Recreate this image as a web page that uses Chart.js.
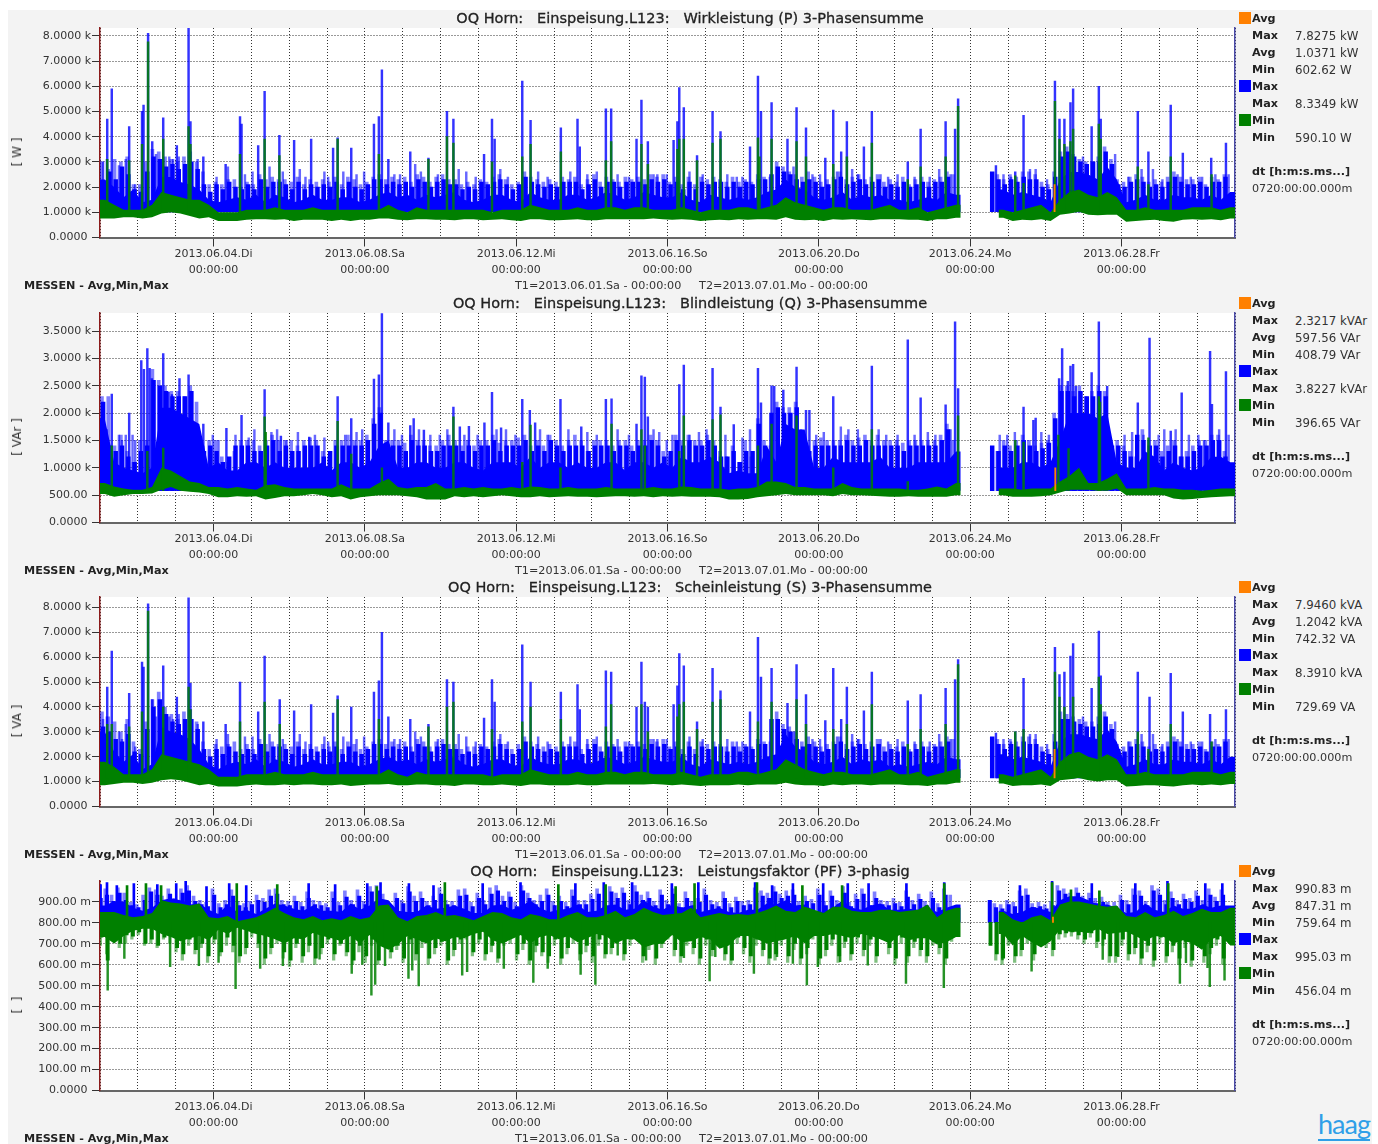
<!DOCTYPE html>
<html>
<head>
<meta charset="utf-8">
<title>OQ Horn Einspeisung.L123</title>
<script src="https://cdn.jsdelivr.net/npm/chart.js@4"></script>
<style>
    html, body { margin: 0; padding: 0; background: #fff; }
    #page { position: absolute; left: 8px; top: 10px; width: 1364px; height: 1134px; background: #f3f3f3; overflow: hidden; }
    #root { position: absolute; left: 0; top: 0; width: 1378px; height: 1144px; overflow: hidden; font-family: "DejaVu Sans", sans-serif; font-size: 11.2px; color: #333; }
    canvas { position: absolute; }
    .txt { position: absolute; white-space: pre; line-height: 14px; }
    .title { font-size: 14.5px; color: #222; transform: translateX(-50%); -webkit-text-stroke: 0.3px #222; }
    .b { font-weight: bold; color: #222; }
    .stat { font-size: 11.8px; }
    .unit { transform: translate(-50%, -50%) rotate(-90deg); font-size: 12px; }
    .swatch { position: absolute; width: 12px; height: 12px; }
    #logo { position: absolute; left: 1318px; top: 1108px; font-family: Lato, sans-serif; font-size: 27px; color: #2f9fe8; letter-spacing: -1px; line-height: 31px; border-bottom: 2px solid #2f9fe8; }
</style>
</head>
<body>
<div id="page"></div>
<div id="root"><div id="logo">haag</div></div>
<script>
// x axis (days since 2013.06.01 00:00)
const xTickDays = [3, 7, 11, 15, 19, 23, 27];
const xTickDates = ['2013.06.04.Di', '2013.06.08.Sa', '2013.06.12.Mi', '2013.06.16.So', '2013.06.20.Do', '2013.06.24.Mo', '2013.06.28.Fr'];
const xTickTime = '00:00:00';

// Wirkleistung (kW)
const wirkTicks = ['0.0000 ', '1.0000 k', '2.0000 k', '3.0000 k', '4.0000 k', '5.0000 k', '6.0000 k', '7.0000 k', '8.0000 k'];
const wirkStats = ['7.8275 kW', '1.0371 kW', '602.62 W', '8.3349 kW', '590.10 W'];
const wirkComb = [
    2.8,3.0,2.7,3.1,3.0,3.2, 2.1,2.1,3.0,3.5,3.4,3.2, 3.1,3.0,3.2,3.4,3.0,2.6, 2.1,2.2,2.1,2.3,2.3,2.0,
    2.2,2.1,2.5,2.3,2.4,2.3, 2.3,2.2,2.4,2.1,2.3,2.2, 2.3,2.2,2.4,2.1,2.4,2.3, 2.1,2.2,2.4,2.5,2.3,2.4,
    2.3,2.4,2.2,2.5,2.4,2.2, 2.4,2.5,2.3,2.3,2.1,2.2, 2.1,2.3,2.2,2.4,2.5,2.3, 2.1,2.2,2.6,2.4,2.3,2.2,
    2.3,2.2,2.4,2.3,2.4,2.1, 2.3,2.5,2.2,2.4,2.3,2.2, 2.4,2.3,2.4,2.3,2.5,2.4, 2.5,2.2,2.4,2.1,2.4,2.1,
    2.4,2.3,2.4,2.3,2.2,2.4, 2.2,2.3,2.2,2.5,2.4,2.4, 3.0,2.8,2.6,2.5,2.4,2.6, 2.4,2.2,2.3,2.4,2.6,2.3,
    2.4,2.5,2.3,2.4,2.5,2.2, 2.3,2.2,2.4,2.1,2.3,2.4, 2.2,2.3,2.4,2.6,2.5,null, null,null,null,null,null,2.5,
    2.3,2.5,2.4,2.6,2.6,2.5, 2.2,2.1,2.6,3.4,3.6,3.3, 3.1,3.0,3.0,3.2,3.6,3.1, 2.3,2.2,2.4,2.5,2.4,2.2,
    2.3,2.2,2.4,2.6,2.4,2.3, 2.3,2.4,2.1,2.4,2.3,2.5
];
const wirkFine = [
    2.6,2.2,2.6,2.3,2.8,2.5, 1.9,1.8,2.6,3.2,3.1,2.8, 2.9,2.7,2.9,3.0,2.7,2.1, 1.8,2.1,1.9,2.2,2.0,1.9,
    2.1,1.9,2.3,2.0,2.2,2.2, 2.1,1.9,2.2,1.9,2.1,2.0, 2.1,2.0,2.2,1.9,2.2,2.0, 1.9,2.1,2.3,2.3,2.1,2.2,
    2.1,2.2,2.0,2.3,2.2,2.0, 2.2,2.3,2.1,2.1,1.9,2.0, 1.9,2.2,2.1,2.2,2.3,2.1, 1.9,2.1,2.4,2.2,2.1,2.0,
    2.1,2.0,2.2,2.2,2.2,1.9, 2.1,2.3,2.0,2.2,2.2,2.0, 2.2,2.2,2.2,2.1,2.3,2.2, 2.3,2.1,2.2,1.9,2.2,1.9,
    2.2,2.1,2.2,2.2,2.0,2.2, 2.0,2.2,2.1,2.3,2.3,2.5, 2.8,2.6,2.5,2.3,2.2,2.3, 2.2,2.0,2.1,2.3,2.4,2.1,
    2.2,2.3,2.1,2.2,2.3,2.0, 2.1,2.0,2.2,2.0,2.1,2.2, 2.0,2.2,2.2,2.4,null,null, null,null,null,null,2.6,2.3,
    2.1,2.3,2.2,2.4,2.3,2.3, 2.0,1.9,2.4,3.2,3.4,3.2, 3.0,2.9,3.0,3.0,3.4,2.9, 2.1,2.0,2.2,2.3,2.2,2.0,
    2.1,2.0,2.2,2.4,2.2,2.1, 2.1,2.2,2.0,2.2,2.2,2.4
];
const wirkSolid = [
    2.3,2.0,1.6,1.9, 1.4,1.5,2.4,2.4, 2.2,2.1,1.9,1.5, 1.4,1.5,1.6,1.5, 1.7,1.4,1.7,1.6, 1.4,1.5,1.7,1.5,
    1.5,1.6,1.6,1.4, 1.5,1.7,1.8,1.6, 1.7,1.5,1.7,1.6, 1.7,1.8,1.5,1.4, 1.5,1.7,1.7,1.5, 1.4,1.8,1.6,1.5,
    1.5,1.7,1.7,1.5, 1.6,1.8,1.7,1.5, 1.6,1.8,1.7,1.6, 1.6,1.8,1.5,1.4, 1.7,1.6,1.5,1.6, 1.5,1.6,1.8,1.9,
    2.3,2.0,1.9,1.6, 1.5,1.6,1.8,1.5, 1.7,1.6,1.7,1.5, 1.5,1.4,1.5,1.6, 1.5,1.8,1.7,null, null,null,null,1.9,
    1.7,1.8,1.7,1.6, 1.4,2.3,2.6,2.6, 2.5,2.3,2.8,2.3, 1.4,1.5,1.7,1.5, 1.5,1.7,1.6,1.6, 1.5,1.7,1.5,1.8
];
const wirkGreenTop = [
    1.5,1.3,1.1,1.1, 1.1,1.3,1.8,1.7, 1.6,1.5,1.5,1.3, 1.0,1.0,1.0,1.1, 1.1,1.1,1.2,1.1, 1.1,1.1,1.2,1.1,
    1.1,1.1,1.1,1.1, 1.1,1.1,1.3,1.1, 1.0,1.2,1.1,1.1, 1.1,1.1,1.1,1.1, 1.1,1.0,1.1,1.1, 1.1,1.3,1.2,1.1,
    1.1,1.1,1.2,1.1, 1.1,1.2,1.2,1.1, 1.2,1.2,1.1,1.1, 1.1,1.2,1.1,1.0, 1.1,1.1,1.1,1.2, 1.2,1.1,1.2,1.3,
    1.6,1.4,1.3,1.2, 1.1,1.2,1.2,1.1, 1.1,1.1,1.2,1.3, 1.1,1.1,1.2,1.0, 1.1,1.2,1.3,null, null,null,null,1.1,
    1.0,1.1,1.2,1.3, 1.0,1.5,1.8,1.9, 1.7,1.6,1.8,1.6, 1.1,1.1,1.2,1.1, 1.1,1.1,1.1,1.2, 1.2,1.2,1.1,1.2
];
const wirkGreenLow = [
    .75,.75,.8,.8, .75,.8,.95,1.0, .95,.85,.75,.8, .65,.65,.65,.7, .72,.72,.7,.72, .65,.7,.7,.7,
    .65,.7,.65,.7, .7,.75,.75,.7, .68,.72,.72,.7, .7,.68,.72,.72, .68,.7,.72,.68, .65,.72,.72,.68,
    .68,.7,.72,.68, .68,.72,.72,.72, .72,.72,.75,.72, .7,.72,.7,.65, .68,.7,.68,.72, .7,.72,.72,.7,
    .8,.7,.68,.7, .65,.72,.7,.72, .7,.68,.72,.72, .72,.7,.7,.65, .72,.72,.78,null, null,null,null,.78,
    .65,.7,.68,.72, .65,.9,.95,1.02, .9,.88,.9,.9, .62,.65,.68,.7, .65,.62,.7,.72, .7,.72,.68,.75
];
const wirkBlueSpikes = [
    [.31,4.7],[.43,5.9],[.89,4.4],[1.23,5.0],[1.27,5.25],[1.39,8.1],[1.5,3.8],[1.79,4.75],[2.15,3.65],[2.46,8.35],[2.51,4.6],[2.85,3.2],
    [3.44,2.9],[3.82,4.8],[3.86,4.5],[4.3,3.65],[4.47,5.8],[4.86,4.05],[5.25,3.85],[5.7,3.9],[6.28,3.55],[6.4,3.95],[6.76,3.55],[7.36,4.5],
    [7.49,4.8],[7.57,6.65],[7.74,3.1],[8.32,3.4],[8.8,3.15],[9.29,5.0],[9.46,4.7],[10.27,3.3],[10.48,4.7],[10.55,3.9],[11.28,6.2],[11.5,4.65],
    [12.3,4.35],[12.74,4.7],[12.8,3.6],[13.49,5.1],[13.63,5.1],[14.3,3.9],[14.43,5.45],[14.6,3.8],[15.28,3.85],[15.38,4.6],[15.43,5.95],[15.55,5.15],
    [15.9,3.25],[16.31,5.0],[16.52,4.2],[17.3,3.6],[17.51,6.4],[17.59,5.0],[17.87,5.35],[18.29,3.9],[18.53,5.15],[18.78,4.35],[19.29,3.15],[19.5,5.05],
    [19.71,3.4],[19.86,4.6],[20.31,3.6],[20.52,5.0],[21.47,3.0],[21.81,4.3],[22.47,4.6],[22.72,4.3],[22.8,5.5],[23.8,2.85],[24.31,2.6],[24.53,4.85],
    [25.36,6.2],[25.48,4.7],[25.61,4.7],[25.77,5.35],[25.84,5.9],[26.33,4.4],[26.52,6.0],[26.57,4.7],[27.55,5.0],[27.83,3.4],[28.42,5.25],[28.74,3.35],
    [29.49,3.15],[29.88,3.75]
];
const wirkMidSpikes = [
    [.1,3.1],[.2,3.0],[.3,3.1],[.62,2.85],[.7,2.6],[.8,3.1],[1.05,2.1],[1.6,3.3],[1.95,3.2],[2.05,3.1],[2.2,3.2],[2.7,3.1],[3.2,2.4],[3.5,2.8],[3.95,2.5],
    [4.15,2.6],[4.6,2.8],[4.95,2.6],[5.4,2.7],[5.55,2.4],[6.05,2.6],[6.15,2.4],[6.55,2.6],[6.9,2.5],[7.1,2.6],[7.9,2.5],[8.05,2.5],[8.45,2.9],[8.6,2.6],[9.05,2.5],
    [9.6,2.7],[9.8,2.6],[10.05,2.4],[10.7,2.7],[10.9,2.4],[11.7,2.6],[11.95,2.4],[12.55,2.6],[13.0,2.5],[13.25,2.6],[13.8,2.5],[14.1,2.4],[14.75,2.5],[14.85,2.5],
    [15.1,2.5],[15.7,2.6],[16.05,2.5],[16.7,2.5],[16.95,2.4],[17.1,2.4],[18.45,2.8],[18.95,2.5],[19.15,2.5],[19.6,2.6],[20.0,2.7],[20.15,2.5],[20.75,2.5],[20.95,2.4],
    [21.2,2.5],[21.65,2.4],[22.05,2.4],[22.3,2.7],[22.6,2.5],[24.0,2.5],[24.2,2.4],[24.7,2.7],[24.85,2.7],[25.15,2.3],[26.1,3.2],[26.95,3.3],[27.3,2.4],[27.65,2.7],
    [27.95,2.7],[28.2,2.3],[28.6,2.5],[28.95,2.4],[29.25,2.4],[29.6,2.5],[29.95,2.5]
];
const wirkGreenSpikes = [
    [.31,3.1],[.89,3.05],[1.23,3.7],[1.39,7.76],[1.79,3.9],[2.46,4.4],[2.51,3.7],[3.82,3.3],[4.47,3.9],[4.86,3.25],[6.4,3.9],[7.49,3.3],
    [8.8,3.1],[9.29,4.0],[9.46,3.75],[10.48,3.0],[11.28,3.2],[11.5,3.7],[12.3,3.4],[13.49,3.05],[13.63,3.8],[14.43,3.7],[14.6,2.9],[15.38,3.5],
    [15.43,3.9],[15.55,3.9],[15.9,3.05],[16.31,3.75],[16.52,3.9],[17.51,3.95],[17.55,3.2],[17.87,3.9],[18.53,3.8],[18.78,3.2],[19.5,2.9],[19.86,3.2],
    [20.52,3.75],[21.47,2.3],[21.81,2.8],[22.47,3.2],[22.8,5.2],[24.31,2.45],[24.53,2.15],[25.36,5.4],[25.48,3.9],[25.61,3.7],[25.77,3.8],[25.84,4.3],
    [26.52,4.5],[26.57,3.9],[27.55,2.8],[27.83,2.1],[28.42,3.2],[29.5,2.5]
];
const wirkAvg = [[25.31,2.1]];

// Blindleistung (kVAr)
const blindTicks = ['0.0000 ', '500.00 ', '1.0000 k', '1.5000 k', '2.0000 k', '2.5000 k', '3.0000 k', '3.5000 k'];
const blindStats = ['2.3217 kVAr', '597.56 VAr', '408.79 VAr', '3.8227 kVAr', '396.65 VAr'];
const blindComb = [
    2.1,2.3,2.3,1.4,1.6,1.3, 1.1,1.5,1.5,2.8,2.6,2.5, 2.4,2.4,2.3,2.5,2.2,1.4, 1.5,1.5,1.2,1.1,1.3,1.5,
    1.5,1.5,1.4,1.5,1.6,1.5, 1.5,1.5,1.4,1.5,1.55,1.5, 1.3,1.2,1.5,1.5,1.6,1.5, 1.5,1.6,1.9,2.1,1.5,1.5,
    1.5,1.45,1.6,1.5,1.5,1.4, 1.4,1.5,1.6,1.5,1.4,1.5, 1.4,1.5,1.5,1.6,1.45,1.5, 1.5,1.55,1.6,1.4,1.5,1.4,
    1.6,1.5,1.4,1.5,1.6,1.5, 1.3,1.5,1.5,1.5,1.4,1.5, 1.5,1.4,1.5,1.5,1.6,1.5, 1.3,1.2,1.6,1.5,1.6,1.5,
    1.5,1.6,1.5,1.3,1.2,1.4, 1.1,1.5,1.2,1.9,1.5,1.4, 2.2,2.1,2.1,2.2,1.5,1.4, 1.5,1.55,1.5,1.5,1.5,1.6,
    1.5,1.55,1.6,1.5,1.6,1.5, 1.5,1.5,1.45,1.5,1.5,1.5, 1.5,1.5,1.6,1.8,1.5,null, null,null,null,null,null,1.3,
    1.5,1.4,1.5,1.6,1.5,1.4, 1.45,1.5,2.0,2.5,2.5,2.4, 2.5,2.3,2.4,2.5,2.4,1.5, 1.5,1.4,1.3,1.2,1.7,1.5,
    1.5,1.3,1.4,1.5,1.2,1.3, 1.4,1.5,1.5,1.6,1.6,1.3
];
const blindFine = [
    2.0,2.2,1.4,1.3,1.4,1.2, 1.1,1.3,1.4,2.6,2.5,2.4, 2.3,2.3,2.3,2.4,1.5,1.3, 1.4,1.3,1.1,1.2,1.4,1.4,
    1.4,1.3,1.3,1.4,1.5,1.3, 1.4,1.3,1.3,1.4,1.4,1.4, 1.2,1.3,1.4,1.4,1.4,1.4, 1.4,1.5,1.8,2.0,1.4,1.4,
    1.4,1.3,1.5,1.4,1.4,1.3, 1.3,1.4,1.4,1.4,1.3,1.4, 1.3,1.4,1.4,1.5,1.3,1.4, 1.4,1.4,1.5,1.3,1.4,1.3,
    1.5,1.4,1.3,1.4,1.4,1.4, 1.3,1.4,1.4,1.4,1.3,1.4, 1.4,1.3,1.4,1.4,1.5,1.4, 1.2,1.3,1.5,1.4,1.5,1.4,
    1.4,1.5,1.4,1.2,1.2,1.3, 1.1,1.3,1.3,1.8,1.4,2.0, 2.1,2.0,2.0,2.1,1.4,1.3, 1.4,1.4,1.4,1.4,1.4,1.5,
    1.4,1.4,1.5,1.4,1.4,1.4, 1.4,1.4,1.3,1.4,1.4,1.4, 1.4,1.4,1.5,1.7,null,null, null,null,null,null,1.4,1.3,
    1.4,1.3,1.4,1.5,1.4,1.3, 1.35,1.45,1.9,2.4,2.4,2.3, 2.4,2.3,2.3,2.4,2.3,1.4, 1.4,1.3,1.2,1.6,1.5,1.4,
    1.4,1.2,1.3,1.4,1.2,1.2, 1.3,1.4,1.4,1.5,1.5,1.2
];
const blindSolid = [
    1.9,1.1,1.0,.95, .9,1.0,2.1,2.1, 2.0,1.9,1.8,1.0, 1.1,.95,.95,1.1, 1.1,1.0,1.1,1.0, 1.0,1.0,1.0,1.1,
    .95,1.1,1.1,1.0, 1.1,1.4,1.5,1.0, 1.0,1.1,1.1,1.0, 1.0,1.1,1.1,1.0, .95,1.1,1.1,1.1, 1.0,1.2,1.0,1.1,
    1.1,1.0,1.1,1.0, 1.0,1.1,1.1,.95, 1.1,1.1,1.0,1.1, 1.0,1.2,1.1,1.1, 1.2,1.1,.9,.95, .9,.9,1.4,1.1,
    1.8,1.7,1.7,1.0, 1.0,1.2,1.1,1.1, 1.1,1.1,1.2,1.0, 1.0,1.0,1.1,1.1, 1.1,1.1,1.3,null, null,null,null,1.0,
    1.0,1.1,1.1,1.0, 1.1,1.5,2.0,2.0, 2.0,1.9,2.0,1.1, 1.0,1.0,1.3,1.2, .95,1.1,1.0,.95, 1.0,1.2,1.2,1.1
];
const blindGreenTop = [
    .72,.66,.62,.6, .6,.65,1.0,.95, .85,.75,.72,.65, .65,.62,.65,.62, .6,.68,.7,.65, .62,.62,.62,.62,
    .62,.7,.62,.62, .62,.72,.8,.65, .62,.65,.65,.72, .62,.62,.65,.62, .65,.62,.62,.65, .62,.66,.65,.62,
    .62,.65,.62,.62, .62,.65,.62,.62, .62,.62,.65,.62, .62,.66,.65,.62, .62,.62,.6,.62, .62,.65,.75,.75,
    .72,.65,.65,.62, .62,.62,.72,.65, .62,.62,.62,.62, .62,.6,.6,.62, .66,.62,.72,null, null,null,null,.62,
    .62,.6,.62,.62, .62,.75,.85,1.0, .72,.72,.8,.9, .62,.62,.62,.65, .62,.62,.6,.6, .58,.6,.62,.62
];
const blindGreenLow = [
    .52,.47,.5,.52, .52,.53,.6,.65, .58,.56,.55,.52, .46,.46,.48,.47, .48,.42,.45,.48, .48,.5,.52,.5,
    .46,.48,.42,.46, .48,.5,.5,.5, .48,.46,.42,.42, .42,.48,.46,.48, .46,.48,.5,.48, .46,.46,.48,.46,
    .47,.48,.47,.47, .46,.47,.48,.48, .47,.48,.46,.48, .47,.48,.47,.47, .47,.46,.42,.42, .43,.46,.48,.5,
    .52,.5,.5,.5, .5,.48,.52,.5, .5,.49,.48,.47, .47,.48,.47,.47, .47,.47,.5,null, null,null,null,.5,
    .47,.47,.47,.48, .5,.55,.6,.6, .6,.58,.58,.62, .5,.5,.5,.5, .5,.44,.42,.43, .45,.46,.47,.48
];
const blindBlueSpikes = [
    [.43,2.35],[.89,2.0],[1.21,2.96],[1.28,2.8],[1.37,3.18],[1.43,2.82],[1.49,2.63],[1.79,3.09],[1.93,2.38],[2.02,2.34],[2.22,2.63],[2.46,2.7],
    [2.51,2.3],[2.85,1.8],[3.46,1.72],[3.86,1.96],[4.47,2.43],[4.9,1.58],[5.65,1.56],[6.4,2.3],[6.76,1.9],[7.36,2.62],[7.49,2.7],[7.57,3.82],
    [7.74,1.82],[8.32,1.77],[8.41,1.9],[8.68,1.69],[9.46,2.11],[9.63,1.75],[9.87,1.76],[10.28,1.82],[10.48,2.38],[10.72,1.73],[11.28,2.25],[11.48,2.05],
    [11.62,1.82],[12.29,2.25],[12.84,1.75],[13.49,2.25],[13.64,2.26],[14.3,1.8],[14.43,2.68],[14.52,2.66],[14.6,1.93],[15.43,2.52],[15.55,2.88],[16.31,2.82],
    [16.52,2.11],[16.87,1.79],[17.51,2.82],[17.59,2.19],[17.87,2.5],[17.94,2.49],[18.18,2.42],[18.53,2.84],[18.78,2.05],[18.87,2.05],[19.5,2.3],[20.52,2.86],
    [21.47,3.34],[21.81,2.28],[22.47,2.15],[22.72,3.67],[22.8,2.45],[24.53,2.11],[24.79,1.87],[24.85,1.91],[25.47,2.63],[25.55,3.18],[25.7,2.58],[25.77,2.86],
    [25.84,2.89],[25.91,2.49],[26.33,2.74],[26.52,3.67],[26.74,2.49],[27.55,2.19],[27.86,3.37],[28.42,1.67],[28.71,2.37],[29.46,3.13],[29.51,2.16],[29.88,2.76]
];
const blindMidSpikes = [
    [.2,1.55],[.3,1.7],[.62,1.6],[.7,1.5],[.8,1.6],[.98,1.6],[1.05,1.5],[2.7,1.65],[3.1,1.6],[3.25,1.5],[3.7,1.6],[4.05,1.55],[4.2,1.7],[4.65,1.65],[4.8,1.7],[5.05,1.5],
    [5.35,1.65],[5.8,1.6],[6.05,1.55],[6.6,1.6],[6.9,1.65],[7.05,1.7],[7.9,1.7],[8.1,1.6],[8.55,1.7],[8.85,1.6],[9.1,1.6],[9.3,1.7],[9.75,1.6],[10.1,1.6],[10.6,1.7],[10.85,1.7],
    [11.1,1.6],[11.75,1.7],[11.95,1.6],[12.5,1.7],[13.0,1.65],[13.25,1.6],[13.8,1.7],[14.1,1.6],[14.75,1.7],[14.9,1.65],[15.1,1.5],[15.25,1.6],[15.7,1.6],[15.95,1.65],[16.15,1.7],
    [16.65,1.6],[17.1,1.55],[17.3,1.7],[18.35,1.6],[18.65,1.7],[19.05,1.6],[19.25,1.65],[19.7,1.75],[19.9,1.7],[20.15,1.7],[20.7,1.7],[20.9,1.6],[21.2,1.6],[21.65,1.6],[22.0,1.65],
    [22.2,1.6],[22.6,1.7],[23.9,1.6],[24.1,1.6],[24.3,1.65],[25.0,1.65],[25.2,1.6],[27.2,1.6],[27.4,1.65],[27.7,1.6],[28.1,1.6],[28.25,1.7],[28.55,1.7],[28.9,1.6],[29.15,1.6],
    [29.3,1.5],[29.7,1.7],[29.95,1.6]
];
const blindGreenSpikes = [
    [.43,1.4],[1.37,1.3],[1.79,1.36],[4.47,1.93],[4.5,1.65],[6.4,1.85],[6.76,1.25],[7.57,1.0],[9.46,1.93],[11.28,1.1],[11.5,1.78],[12.29,1.0],
    [13.64,1.8],[14.43,1.7],[14.52,1.4],[15.43,1.3],[15.55,1.95],[16.31,1.88],[16.52,1.97],[17.51,1.4],[17.87,1.8],[18.53,1.95],[19.5,1.0],[20.52,1.7],
    [21.47,.75],[22.8,1.95],[24.31,1.5],[24.53,1.47],[25.45,1.6],[25.72,1.35],[26.52,2.3],[26.55,2.2],[27.83,1.55]
];
const blindAvg = [[25.33,1.0]];

// Scheinleistung (kVA)
const scheinTicks = ['0.0000 ', '1.0000 k', '2.0000 k', '3.0000 k', '4.0000 k', '5.0000 k', '6.0000 k', '7.0000 k', '8.0000 k'];
const scheinStats = ['7.9460 kVA', '1.2042 kVA', '742.32 VA', '8.3910 kVA', '729.69 VA'];
const scheinComb = [
    3.6,3.8,3.6,3.4,3.0,3.5, 2.6,2.3,3.4,4.3,4.6,4.0, 3.7,3.5,3.8,3.9,3.4,2.6, 2.3,2.5,2.4,2.5,2.6,2.3,
    2.5,2.3,2.7,2.5,2.6,2.5, 2.5,2.4,2.6,2.3,2.5,2.4, 2.5,2.4,2.6,2.3,2.6,2.5, 2.3,2.4,2.6,2.7,2.5,2.6,
    2.5,2.6,2.4,2.7,2.6,2.4, 2.6,2.7,2.5,2.5,2.3,2.4, 2.4,2.5,2.4,2.6,2.7,2.5, 2.3,2.5,2.8,2.6,2.5,2.4,
    2.5,2.4,2.6,2.5,2.6,2.3, 2.5,2.7,2.4,2.6,2.5,2.4, 2.6,2.5,2.6,2.5,2.7,2.6, 2.7,2.4,2.6,2.3,2.6,2.3,
    2.6,2.5,2.6,2.5,2.4,2.6, 2.4,2.5,2.4,2.7,2.6,2.6, 3.8,3.3,3.2,3.0,2.6,2.8, 2.6,2.4,2.5,2.6,2.8,2.5,
    2.6,2.7,2.5,2.6,2.7,2.4, 2.5,2.4,2.6,2.3,2.5,2.6, 2.4,2.5,2.6,2.8,2.7,null, null,null,null,null,null,2.7,
    2.5,2.7,2.6,2.8,2.8,2.7, 2.4,2.3,2.9,3.8,3.7,3.6, 3.5,3.4,3.4,3.6,3.8,3.3, 2.5,2.4,2.6,2.7,2.6,2.4,
    2.5,2.4,2.6,2.8,2.6,2.5, 2.5,2.6,2.3,2.6,2.5,2.7
];
const scheinFine = [
    3.4,3.2,3.0,2.7,2.6,2.9, 2.2,2.1,3.1,4.0,4.3,3.7, 3.4,3.3,3.5,3.5,3.1,2.3, 2.0,2.3,2.1,2.4,2.2,2.1,
    2.3,2.1,2.5,2.2,2.4,2.4, 2.3,2.1,2.4,2.1,2.3,2.2, 2.3,2.2,2.4,2.1,2.4,2.2, 2.1,2.3,2.5,2.5,2.3,2.4,
    2.3,2.4,2.2,2.5,2.4,2.2, 2.4,2.5,2.3,2.3,2.1,2.2, 2.1,2.4,2.3,2.4,2.5,2.3, 2.1,2.3,2.6,2.4,2.3,2.2,
    2.3,2.2,2.4,2.4,2.4,2.1, 2.3,2.5,2.2,2.4,2.4,2.2, 2.4,2.4,2.4,2.3,2.5,2.4, 2.5,2.3,2.4,2.1,2.4,2.1,
    2.4,2.3,2.4,2.4,2.2,2.4, 2.2,2.4,2.3,2.5,2.5,3.5, 3.5,3.1,3.0,2.7,2.4,2.5, 2.4,2.2,2.3,2.5,2.6,2.3,
    2.4,2.5,2.3,2.4,2.5,2.2, 2.3,2.2,2.4,2.2,2.3,2.4, 2.2,2.4,2.4,2.6,null,null, null,null,null,null,2.8,2.5,
    2.3,2.5,2.4,2.6,2.5,2.5, 2.2,2.1,2.6,3.5,3.5,3.4, 3.3,3.2,3.2,3.3,3.6,3.1, 2.3,2.2,2.4,2.5,2.4,2.2,
    2.3,2.2,2.4,2.6,2.4,2.3, 2.3,2.4,2.2,2.4,2.4,2.6
];
const scheinSolid = [
    3.0,2.2,1.8,2.1, 1.5,1.7,3.2,3.0, 2.9,2.7,2.3,1.7, 1.5,1.7,1.8,1.7, 1.9,1.6,1.9,1.8, 1.6,1.7,1.9,1.7,
    1.7,1.8,1.8,1.6, 1.7,1.9,2.0,1.8, 1.9,1.7,1.9,1.8, 1.9,2.0,1.7,1.6, 1.7,1.9,1.9,1.7, 1.6,2.0,1.8,1.7,
    1.7,1.9,1.9,1.7, 1.8,2.0,1.9,1.7, 1.8,2.0,1.9,1.8, 1.8,2.0,1.7,1.6, 1.9,1.8,1.7,1.8, 1.7,1.8,2.0,2.1,
    2.9,2.4,2.2,1.8, 1.7,1.8,2.0,1.7, 1.9,1.8,1.9,1.6, 1.7,1.6,1.7,1.8, 1.7,2.0,1.9,null, null,null,null,2.1,
    1.9,2.0,1.9,1.8, 1.6,2.6,2.9,2.9, 2.8,2.7,3.1,2.6, 1.6,1.7,1.9,1.7, 1.7,1.9,1.8,1.8, 1.7,1.9,1.7,2.0
];
const scheinGreenTop = [
    1.8,1.6,1.3,1.3, 1.3,1.5,2.1,2.0, 1.9,1.8,1.7,1.5, 1.2,1.2,1.2,1.3, 1.3,1.3,1.4,1.3, 1.3,1.3,1.4,1.3,
    1.3,1.3,1.3,1.3, 1.3,1.3,1.5,1.3, 1.2,1.4,1.3,1.3, 1.3,1.3,1.3,1.3, 1.3,1.2,1.3,1.3, 1.3,1.5,1.4,1.3,
    1.3,1.3,1.4,1.3, 1.3,1.4,1.4,1.3, 1.4,1.4,1.3,1.3, 1.3,1.4,1.3,1.2, 1.3,1.3,1.3,1.4, 1.4,1.3,1.4,1.5,
    1.9,1.7,1.5,1.4, 1.3,1.4,1.4,1.3, 1.3,1.3,1.4,1.5, 1.3,1.3,1.4,1.2, 1.3,1.4,1.5,null, null,null,null,1.3,
    1.2,1.3,1.4,1.5, 1.2,1.8,2.1,2.2, 2.0,1.9,2.1,1.9, 1.3,1.3,1.4,1.3, 1.3,1.3,1.3,1.4, 1.4,1.4,1.3,1.4
];
const scheinGreenLow = [
    .85,.9,.95,.95, .9,.95,1.05,1.1, 1.05,.95,.85,.9, .8,.8,.8,.85, .88,.85,.85,.88, .85,.88,.88,.85,
    .85,.88,.82,.85, .88,.88,.9,.85, .85,.88,.88,.85, .85,.82,.88,.88, .85,.85,.88,.85, .82,.88,.88,.85,
    .85,.85,.88,.85, .85,.88,.88,.88, .88,.88,.9,.88, .85,.88,.85,.82, .85,.85,.85,.88, .85,.88,.88,.88,
    .95,.88,.85,.85, .82,.88,.85,.88, .88,.85,.88,.88, .88,.85,.85,.82, .88,.88,.95,null, null,null,null,.92,
    .82,.85,.85,.88, .82,1.05,1.1,1.15, 1.05,1.0,1.05,1.05, .8,.82,.85,.85, .82,.8,.85,.88, .85,.88,.85,.9
];
const scheinBlueSpikes = [
    [.31,4.8],[.43,6.25],[.89,4.55],[1.23,5.8],[1.27,5.6],[1.39,8.15],[1.5,4.3],[1.79,5.65],[2.15,4.4],[2.46,8.39],[2.51,4.95],[2.85,3.4],
    [3.44,3.3],[3.82,5.0],[4.3,3.8],[4.47,6.05],[4.87,4.3],[5.25,3.85],[5.7,4.1],[6.28,3.75],[6.4,4.45],[6.76,4.0],[7.36,4.6],[7.49,5.05],
    [7.57,7.0],[7.74,3.6],[8.32,3.5],[8.8,3.3],[9.29,5.1],[9.46,5.0],[10.27,3.55],[10.48,5.1],[10.55,4.2],[11.28,6.5],[11.5,5.0],[12.3,4.6],
    [12.74,4.9],[12.8,3.9],[13.49,5.45],[13.63,5.4],[14.3,4.0],[14.43,5.8],[14.52,4.2],[14.6,4.0],[15.28,4.1],[15.38,4.85],[15.43,6.15],[15.55,5.65],
    [15.9,3.4],[16.31,5.55],[16.52,4.65],[17.3,3.8],[17.51,6.8],[17.59,5.2],[17.87,5.55],[18.29,4.15],[18.53,5.7],[18.78,4.5],[19.29,3.45],[19.5,5.55],
    [19.71,3.5],[19.86,4.8],[20.31,3.85],[20.52,5.4],[21.47,4.25],[21.81,4.5],[22.47,4.75],[22.72,5.1],[22.8,5.9],[23.8,2.95],[24.31,3.0],[24.53,5.15],
    [25.36,6.4],[25.48,5.3],[25.61,5.4],[25.77,6.05],[25.84,6.55],[26.33,4.75],[26.52,7.05],[26.57,5.25],[27.55,5.4],[27.86,4.4],[28.42,5.35],[28.74,3.8],
    [29.46,3.7],[29.88,3.9]
];
const scheinMidSpikes = [
    [.1,3.7],[.2,3.5],[.3,3.6],[.62,3.0],[.7,2.7],[.8,3.3],[1.05,2.4],[1.6,3.6],[1.95,3.6],[2.05,3.5],[2.2,3.7],[2.7,3.3],[3.2,2.7],[3.5,2.9],[3.95,2.8],
    [4.15,2.8],[4.6,2.9],[4.95,2.7],[5.4,2.9],[5.55,2.6],[6.05,2.8],[6.15,2.6],[6.55,2.8],[6.9,2.7],[7.1,2.8],[7.9,2.7],[8.05,2.7],[8.45,3.0],[8.6,2.8],[9.05,2.7],
    [9.6,2.9],[9.8,2.8],[10.05,2.6],[10.7,2.9],[10.9,2.6],[11.7,2.8],[11.95,2.6],[12.55,2.8],[13.0,2.7],[13.25,2.8],[13.8,2.7],[14.1,2.6],[14.75,2.7],[14.85,2.7],
    [15.1,2.7],[15.7,2.8],[16.05,2.7],[16.7,2.7],[16.95,2.6],[17.1,2.6],[18.45,3.0],[18.95,2.7],[19.15,2.7],[19.6,2.8],[20.0,2.9],[20.15,2.7],[20.75,2.7],[20.95,2.6],
    [21.2,2.7],[21.65,2.6],[22.05,2.6],[22.3,2.9],[22.6,2.7],[24.0,2.7],[24.2,2.6],[24.7,2.9],[24.85,2.9],[25.15,2.5],[26.1,3.6],[26.95,3.4],[27.3,2.6],[27.65,2.9],
    [27.95,2.9],[28.2,2.5],[28.6,2.7],[28.95,2.6],[29.25,2.6],[29.6,2.7],[29.95,2.7]
];
const scheinGreenSpikes = [
    [.31,3.3],[.43,3.3],[.89,3.2],[1.23,3.8],[1.39,7.85],[1.79,4.0],[2.46,4.8],[2.51,3.9],[3.82,3.4],[4.47,4.2],[4.87,3.3],[6.4,4.3],[7.49,3.5],
    [8.8,3.2],[9.29,4.0],[9.46,4.2],[10.48,3.1],[11.28,3.4],[11.5,4.0],[12.3,3.5],[13.49,3.2],[13.63,4.1],[14.43,4.1],[14.6,3.0],[15.38,3.6],
    [15.43,4.1],[15.55,4.2],[15.9,3.1],[16.31,4.2],[16.52,4.3],[17.51,3.4],[17.87,4.2],[18.53,4.3],[18.78,3.3],[19.5,3.1],[19.86,3.3],
    [20.52,4.1],[21.47,2.5],[21.81,3.1],[22.47,3.3],[22.8,5.7],[24.31,3.0],[24.53,3.1],[25.36,5.4],[25.48,4.4],[25.61,4.0],[25.84,4.4],
    [26.52,5.2],[26.57,4.1],[27.55,3.0],[27.83,2.3],[28.42,3.3],[29.5,2.6]
];
const scheinAvg = [[25.31,2.3]];

// Leistungsfaktor (m)
const faktorTicks = ['0.0000 ', '100.00 m', '200.00 m', '300.00 m', '400.00 m', '500.00 m', '600.00 m', '700.00 m', '800.00 m', '900.00 m'];
const faktorStats = ['990.83 m', '847.31 m', '759.64 m', '995.03 m', '456.04 m'];
const faktorComb = [
    905,945,960,930,965,940, 895,885,930,965,955,925, 960,915,960,975,925,905, 895,960,890,905,955,900,
    890,900,930,915,955,960, 905,900,925,895,945,905, 900,890,945,895,950,905, 955,900,970,975,935,890,
    940,905,970,925,945,900, 925,965,905,900,955,960, 895,940,905,965,975,925, 945,895,975,940,905,930,
    960,900,925,895,955,905, 905,935,960,900,970,940, 965,905,975,930,945,900, 955,905,960,890,945,900,
    915,960,905,895,945,890, 920,900,905,965,950,940, 970,935,950,955,900,925, 910,960,900,950,905,970,
    895,935,960,900,945,905, 900,915,895,950,905,935, 900,945,890,960,930,null, null,null,null,null,null,890,
    885,905,895,950,960,890, 895,885,900,975,960,940, 965,925,940,915,920,895, 895,930,905,960,950,900,
    975,960,905,945,905,935, 915,950,905,960,920,955
];
const faktorFine = [
    890,915,930,900,940,905, 880,870,905,945,930,905, 935,895,940,950,900,885, 875,930,870,885,925,880,
    870,885,905,895,925,935, 885,880,900,875,915,885, 880,870,915,880,920,885, 925,885,945,950,905,870,
    915,890,945,900,915,880, 905,935,885,880,925,930, 875,915,885,935,950,900, 920,875,950,915,885,900,
    930,880,900,875,925,885, 885,910,935,880,945,915, 940,885,945,905,915,880, 930,885,935,870,915,880,
    895,930,885,875,915,870, 900,880,885,940,925,915, 945,915,925,930,880,900, 890,930,880,925,885,940,
    875,910,935,880,915,885, 880,890,875,920,885,910, 880,915,870,930,null,null, null,null,null,null,905,870,
    865,885,875,925,930,870, 875,865,880,950,935,915, 940,900,915,890,895,875, 875,905,885,930,925,880,
    950,930,885,915,885,910, 895,925,885,930,900,930
];
const faktorSolid = [
    880,900,900,870, 855,870,905,915, 905,885,890,860, 840,885,850,860, 840,865,890,880, 865,855,880,855,
    855,850,890,860, 880,915,905,855, 850,850,880,865, 870,880,865,845, 845,880,885,860, 875,905,870,850,
    860,865,885,850, 855,880,885,860, 865,905,875,860, 885,870,880,850, 860,870,850,845, 860,860,890,885,
    905,880,885,855, 850,870,905,870, 860,880,890,860, 860,865,860,870, 850,870,885,null, null,null,null,855,
    840,850,875,865, 850,905,925,925, 905,885,885,870, 845,850,890,860, 850,880,865,865, 885,870,880,880
];
const faktorGreenTop = [
    850,850,835,825, 830,845,905,895, 890,880,890,825, 820,830,805,815, 825,845,870,845, 825,815,830,810,
    820,810,830,815, 825,880,885,825, 805,830,835,850, 830,835,825,810, 830,850,845,825, 815,840,830,815,
    815,835,850,825, 825,835,855,825, 840,870,850,835, 840,845,870,825, 835,845,835,840, 835,845,860,880,
    855,850,875,860, 845,875,875,855, 850,850,860,860, 850,855,860,885, 825,855,870,null, null,null,null,850,
    815,800,825,835, 810,885,900,900, 890,880,875,880, 830,825,850,825, 835,855,830,845, 865,850,850,870
];
const faktorGreenLow = [
    730,700,735,760, 770,770,745,730, 710,725,735,715, 765,745,775,760, 745,735,720,700, 725,720,750,735,
    725,710,735,700, 740,690,670,695, 735,720,700,725, 710,730,725,745, 755,715,700,720, 740,700,730,740,
    720,735,705,725, 745,735,700,720, 720,680,695,700, 740,705,710,730, 720,675,690,735, 735,720,700,710,
    720,735,700,735, 735,745,735,725, 745,735,720,700, 740,715,725,725, 695,705,730,null, null,null,null,745,
    690,735,705,680, 710,765,755,755, 750,770,745,750, 755,735,710,735, 730,700,715,700, 670,720,735,690
];
const faktorGreenComb = [
    600,690,650,735,680,700, 720,740,690,700,680,720, 700,660,620,690,650,680, 610,700,640,690,660,610,
    650,730,680,600,650,700, 630,590,680,610,660,600, 650,700,620,690,640,600, 660,610,690,600,700,630,
    670,610,700,620,680,600, 650,690,600,640,700,720, 640,700,620,660,610,690, 700,620,670,600,660,640,
    610,690,600,650,700,620, 660,610,690,630,650,700, 620,690,720,610,670,600, 680,720,640,610,690,650,
    600,690,640,720,620,600, 700,650,610,690,640,600, 620,690,610,670,600,650, 720,600,640,690,610,680,
    620,700,640,690,610,720, 650,600,700,610,680,640, 610,690,650,600,710,null, null,null,null,null,null,620,
    600,690,610,640,700,620, 720,680,640,720,730,735, 720,700,730,680,690,610, 610,690,620,650,600,660,
    590,700,610,660,600,680, 590,700,610,650,690,600
];
const faktorGreenFine = [
    660,730,620,750,700,740, 735,755,700,720,690,730, 740,680,650,720,670,700, 640,720,660,730,690,640,
    680,750,700,630,680,720, 660,620,700,640,690,630, 680,720,650,700,660,620, 690,640,720,620,730,660,
    690,630,720,650,710,630, 680,710,620,670,720,740, 660,720,650,690,630,710, 730,650,700,620,690,660,
    640,720,630,680,730,650, 690,640,720,650,680,720, 650,720,740,640,700,630, 700,740,670,640,720,680,
    630,720,670,750,650,620, 730,680,640,720,670,630, 650,720,640,700,630,680, 740,630,670,720,640,710,
    650,730,670,720,640,740, 680,630,730,640,710,670, 640,720,680,630,null,null, null,null,null,null,690,650,
    630,720,640,670,730,650, 740,710,670,745,750,755, 740,720,750,710,720,640, 640,720,650,680,630,690,
    620,730,640,690,630,710, 620,730,640,680,720,630
];
const faktorBlueSpikes = [
    [.2,980],[.37,990],[.63,975],[1.08,985],[1.7,980],[2.2,985],[2.45,995],[3.0,970],[3.6,985],[4.05,975],[5.7,985],[6.4,980],[7.25,985],[7.6,990],[8.35,985],[9.0,975],
    [10.3,985],[11.3,990],[12.75,985],[13.5,990],[14.25,990],[15.3,985],[16.0,990],[17.5,990],[17.95,975],[18.5,985],[19.3,985],[19.95,985],[20.5,985],[21.5,985],[22.5,990],
    [24.5,975],[25.35,995],[26.4,985],[27.55,985],[28.4,995],[29.4,985],[29.85,985]
];
const faktorGreenUp = [
    [.9,975],[1.4,985],[1.8,975],[3.8,985],[4.87,980],[7.5,970],[9.3,990],[12.3,980],[13.55,980],[15.4,970],[15.9,985],[17.55,990],
    [18.75,975],[19.8,975],[22.5,985],[25.35,990],[25.85,955],[26.6,950],[28.42,985]
];
const faktorDownSpikes = [
    [.04,581],[.37,478],[.81,629],[2.02,589],[2.78,594],[3.3,610],[3.75,485],[4.4,581],[5.0,594],[5.97,625],[6.82,557],[7.1,600],[7.34,454],[7.44,505],[7.7,594],
    [8.32,533],[8.42,573],[8.59,498],[9.74,549],[9.87,565],[10.84,581],[11.62,514],[12.0,581],[12.87,552],[13.26,505],[13.85,644],[14.6,620],[15.6,632],[16.28,521],
    [16.43,637],[17.45,557],[18.06,637],[18.48,605],[18.85,502],[19.14,589],[19.73,613],[20.46,597],[21.47,510],[22.47,489],[24.02,621],[24.79,568],[26.67,624],
    [27.08,637],[28.71,510],[28.87,608],[29.44,584],[29.5,494],[29.89,525]
];
const faktorAvg = [[25.3,825]];

const legendNames = ['Avg', 'Max', 'Avg', 'Min', 'Max', 'Max', 'Min', 'Min'];
const seriesColours = { Avg: '#ff8000', Max: '#0000ff', Min: '#008000' };
const dtHead = 'dt [h:m:s.ms...]';
const dtValue = '0720:00:00.000m';
const footLeft = 'MESSEN - Avg,Min,Max';
const footRight = 'T1=2013.06.01.Sa - 00:00:00     T2=2013.07.01.Mo - 00:00:00';

const BLUE = 'rgb(0,0,255)', GREEN = 'rgb(0,128,0)';
const panelTop = [28, 313, 597, 881];
const plotHeight = 209.5;

const root = document.getElementById('root');

function addText(text, x, y, cls) {
    const el = document.createElement('div');
    el.className = 'txt ' + (cls || '');
    el.style.left = x + 'px';
    el.style.top = y + 'px';
    el.textContent = text;
    root.appendChild(el);
    return el;
}

// values on a regular hour grid, for bars
function onGrid(values, hours, shift) {
    return values.map((v, i) => ({ x: (i + shift) * hours / 24, y: v }));
}
// same grid for areas: each run of values is held flat out to the edge of its first and last step
function areaPoints(values, hours) {
    const step = hours / 24;
    const pts = [];
    values.forEach((v, i) => {
        const x = (i + 0.5) * step;
        if (v !== null && (i === 0 || values[i - 1] === null)) pts.push({ x: x - step / 2, y: v });
        pts.push({ x: x, y: v });
        if (v !== null && (i === values.length - 1 || values[i + 1] === null)) pts.push({ x: x + step / 2, y: v });
    });
    return pts;
}
function fromPairs(pairs) {
    return pairs.map(p => ({ x: p[0], y: p[1] }));
}
function bars(data, colour, width, base, order) {
    return { data: data, backgroundColor: colour, barThickness: width, order: order, stack: 's', borderWidth: 0, base: base };
}
function area(values, colour, fill, order) {
    return { type: 'line', data: areaPoints(values, 6), backgroundColor: colour, borderWidth: 0, pointRadius: 0, tension: 0, fill: fill, order: order, spanGaps: false };
}

// white plot background
const plotBackground = {
    id: 'plotBackground',
    beforeDraw(chart) {
        const { ctx, chartArea: a } = chart;
        ctx.save();
        ctx.fillStyle = '#fff';
        ctx.fillRect(a.left, a.top, a.right - a.left, a.bottom - a.top);
        ctx.restore();
    }
};

function makePanel(index, opt) {
    const top = panelTop[index];
    const canvas = document.createElement('canvas');
    canvas.width = 1232;
    canvas.height = 280;
    canvas.style.left = '8px';
    canvas.style.top = (top - 8) + 'px';
    root.appendChild(canvas);

    new Chart(canvas.getContext('2d'), {
        type: 'bar',
        data: { datasets: opt.datasets },
        plugins: [plotBackground],
        options: {
            responsive: false,
            animation: false,
            events: [],
            layout: { padding: { top: 8, right: 5, left: 0, bottom: 0 } },
            plugins: { legend: { display: false }, tooltip: { enabled: false } },
            scales: {
                x: {
                    type: 'linear',
                    min: 0,
                    max: 30,
                    offset: false,
                    stacked: false,
                    afterFit(s) { s.height = 280 - 8 - plotHeight; },
                    border: { color: '#666', width: 2, dash: [1, 2] },
                    grid: {
                        offset: false,
                        color: 'rgba(0,0,0,0.8)',
                        tickColor: c => c.tick && xTickDays.includes(c.tick.value) ? '#333' : 'transparent',
                        tickLength: 9
                    },
                    ticks: {
                        stepSize: 1,
                        autoSkip: false,
                        maxRotation: 0,
                        includeBounds: false,
                        padding: 0,
                        color: '#333',
                        font: { family: 'DejaVu Sans', size: 11, lineHeight: 1.45 },
                        callback(v) {
                            const k = xTickDays.indexOf(v);
                            return k < 0 ? '' : [xTickDates[k], xTickTime];
                        }
                    }
                },
                y: {
                    type: 'linear',
                    min: 0,
                    max: opt.max,
                    stacked: false,
                    afterFit(s) { s.width = 92; },
                    border: { color: '#8b1a1a', width: 1.5, dash: [1, 2] },
                    grid: { color: 'rgba(0,0,0,0.8)', tickColor: '#333', tickLength: 8 },
                    ticks: {
                        stepSize: opt.step,
                        includeBounds: false,
                        autoSkip: false,
                        padding: 1,
                        color: '#333',
                        font: { family: 'DejaVu Sans', size: 11 },
                        callback(v) { return opt.ticks[Math.round(v / opt.step)]; }
                    }
                },
                right: {
                    type: 'linear',
                    position: 'right',
                    afterFit(s) { s.width = 0; },
                    grid: { display: false },
                    ticks: { display: false },
                    border: { color: '#4a4aa8', width: 1.5 }
                }
            }
        }
    });

    // title, unit, footer and side legend as page text
    addText(opt.title, 690, top - 17, 'title');
    addText(opt.unit, 17, top + 124, 'unit');
    addText(footLeft, 24, top + 251, 'b');
    addText(footRight, 515, top + 251);

    let row = top - 16;
    legendNames.forEach((name, i) => {
        const isHead = i === 0 || i === 4 || i === 6;
        if (isHead) {
            const sw = document.createElement('div');
            sw.className = 'swatch';
            sw.style.left = '1239px';
            sw.style.top = row + 'px';
            sw.style.background = seriesColours[name];
            root.appendChild(sw);
        }
        addText(name, 1252, row, 'b');
        row += 17;
    });
    // stat rows: 1,2,3 Avg block, 5 Max block, 7 Min block
    [1, 2, 3, 5, 7].forEach((r, i) => addText(opt.stats[i], 1295, top - 16 + r * 17, 'stat'));
    addText(dtHead, 1252, top + 137, 'b');
    addText(dtValue, 1252, top + 154);
}

function powerPanel(index, title, unit, max, step, ticks, stats, base, comb, fine, solid, greenTop, greenLow, blueSpikes, midSpikes, greenSpikes, avg) {
    makePanel(index, {
        title, unit, max, step, ticks, stats,
        datasets: [
            bars(fromPairs(avg), '#ff8000', 1.2, base, 1),
            bars(fromPairs(greenSpikes), 'rgba(0,128,0,0.85)', 1.8, base, 2),
            area(greenTop, GREEN, '+1', 3),
            area(greenLow, GREEN, false, 3),
            bars(fromPairs(blueSpikes), 'rgba(0,0,255,0.8)', 1.8, base, 4),
            bars(onGrid(fine, 4, 1), BLUE, 3.8, base, 5),
            area(solid, BLUE, { value: base }, 6),
            bars(fromPairs(midSpikes), 'rgba(0,0,255,0.6)', 1.8, base, 7),
            bars(onGrid(comb, 4, 0.5), 'rgba(0,0,255,0.5)', 3, base, 8)
        ]
    });
}

powerPanel(0, 'OQ Horn:   Einspeisung.L123:   Wirkleistung (P) 3-Phasensumme', '[ W ]', 8.31, 1, wirkTicks, wirkStats, 1.0,
    wirkComb, wirkFine, wirkSolid, wirkGreenTop, wirkGreenLow, wirkBlueSpikes, wirkMidSpikes, wirkGreenSpikes, wirkAvg);
powerPanel(1, 'OQ Horn:   Einspeisung.L123:   Blindleistung (Q) 3-Phasensumme', '[ VAr ]', 3.83, 0.5, blindTicks, blindStats, 0.58,
    blindComb, blindFine, blindSolid, blindGreenTop, blindGreenLow, blindBlueSpikes, blindMidSpikes, blindGreenSpikes, blindAvg);
powerPanel(2, 'OQ Horn:   Einspeisung.L123:   Scheinleistung (S) 3-Phasensumme', '[ VA ]', 8.42, 1, scheinTicks, scheinStats, 1.15,
    scheinComb, scheinFine, scheinSolid, scheinGreenTop, scheinGreenLow, scheinBlueSpikes, scheinMidSpikes, scheinGreenSpikes, scheinAvg);

makePanel(3, {
    title: 'OQ Horn:   Einspeisung.L123:   Leistungsfaktor (PF) 3-phasig',
    unit: '[  ]',
    max: 997,
    step: 100,
    ticks: faktorTicks,
    stats: faktorStats,
    datasets: [
        bars(fromPairs(faktorAvg), '#ff8000', 1.2, 800, 1),
        bars(fromPairs(faktorDownSpikes), 'rgba(0,128,0,0.85)', 1.8, 800, 2),
        bars(fromPairs(faktorGreenUp), GREEN, 2, 800, 2),
        area(faktorGreenTop, GREEN, '+1', 3),
        area(faktorGreenLow, GREEN, false, 3),
        bars(onGrid(faktorGreenFine, 4, 1), GREEN, 3.2, 800, 4),
        bars(onGrid(faktorGreenComb, 4, 0.5), 'rgba(0,128,0,0.5)', 2.6, 800, 4),
        bars(fromPairs(faktorBlueSpikes), BLUE, 2, 820, 5),
        bars(onGrid(faktorFine, 4, 1), BLUE, 3.4, 800, 6),
        area(faktorSolid, BLUE, { value: 800 }, 6),
        bars(onGrid(faktorComb, 4, 0.5), 'rgba(0,0,255,0.5)', 3, 800, 7)
    ]
});
</script>
</body>
</html>
